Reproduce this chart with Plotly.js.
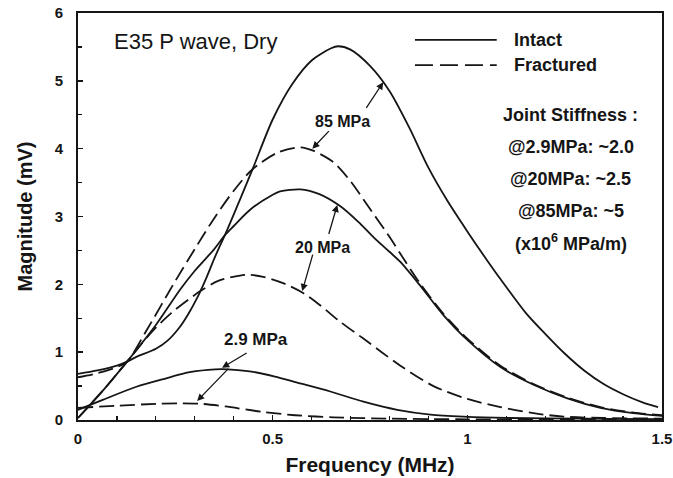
<!DOCTYPE html>
<html>
<head>
<meta charset="utf-8">
<script src="https://cdn.plot.ly/plotly-3.0.1.min.js"></script>
<style>
html,body{margin:0;padding:0;background:#fff;}
#chart{width:673px;height:478px;}
</style>
</head>
<body>
<div id="chart"></div>
<script>
// ---- data ----
const seriesNames = ["Intact", "Fractured"];
const stressLabels = ["85 MPa", "20 MPa", "2.9 MPa"];

const intact85X = [0, 0.05, 0.1, 0.126, 0.15, 0.2, 0.23, 0.26, 0.283, 0.306, 0.33, 0.35, 0.383, 0.416, 0.45, 0.5, 0.55, 0.6, 0.65, 0.668, 0.7, 0.75, 0.8, 0.85, 0.9, 0.95, 1.0, 1.05, 1.1, 1.15, 1.2, 1.25, 1.3, 1.35, 1.4, 1.45, 1.49];
const intact85Y = [0.68, 0.73, 0.80, 0.86, 0.93, 1.05, 1.17, 1.36, 1.56, 1.80, 2.10, 2.38, 2.80, 3.25, 3.72, 4.43, 4.95, 5.30, 5.48, 5.51, 5.46, 5.22, 4.85, 4.32, 3.72, 3.22, 2.78, 2.36, 1.96, 1.58, 1.27, 0.98, 0.73, 0.53, 0.38, 0.26, 0.19];

const intact20X = [0, 0.065, 0.126, 0.2, 0.262, 0.3, 0.35, 0.378, 0.4, 0.442, 0.5, 0.519, 0.571, 0.62, 0.674, 0.72, 0.76, 0.8, 0.828, 0.879, 0.938, 1.0, 1.085, 1.17, 1.257, 1.342, 1.427, 1.5];
const intact20Y = [0.03, 0.44, 0.86, 1.40, 1.92, 2.20, 2.52, 2.73, 2.86, 3.10, 3.32, 3.37, 3.40, 3.33, 3.15, 2.92, 2.69, 2.48, 2.33, 1.98, 1.55, 1.18, 0.78, 0.52, 0.32, 0.18, 0.10, 0.06];

const intact29X = [0, 0.065, 0.15, 0.236, 0.28, 0.334, 0.37, 0.403, 0.45, 0.506, 0.558, 0.648, 0.733, 0.82, 0.905, 0.99, 1.1, 1.3, 1.5];
const intact29Y = [0.15, 0.30, 0.49, 0.63, 0.70, 0.74, 0.75, 0.74, 0.71, 0.64, 0.56, 0.42, 0.27, 0.15, 0.08, 0.05, 0.03, 0.02, 0.01];

const fract85X = [0, 0.05, 0.1, 0.126, 0.177, 0.25, 0.3, 0.347, 0.4, 0.447, 0.512, 0.571, 0.604, 0.656, 0.7, 0.743, 0.8, 0.828, 0.879, 0.938, 1.0, 1.085, 1.17, 1.257, 1.342, 1.427, 1.5];
const fract85Y = [0.63, 0.69, 0.78, 0.86, 1.33, 2.05, 2.52, 2.95, 3.38, 3.69, 3.94, 4.02, 3.97, 3.80, 3.52, 3.17, 2.70, 2.45, 2.01, 1.57, 1.20, 0.80, 0.53, 0.33, 0.19, 0.11, 0.07];

const fract20X = [0, 0.065, 0.126, 0.185, 0.24, 0.314, 0.36, 0.416, 0.44, 0.476, 0.53, 0.576, 0.62, 0.673, 0.733, 0.78, 0.828, 0.913, 1.0, 1.085, 1.17, 1.247, 1.35, 1.5];
const fract20Y = [0.03, 0.44, 0.86, 1.27, 1.58, 1.90, 2.05, 2.13, 2.14, 2.11, 2.01, 1.88, 1.70, 1.45, 1.20, 1.00, 0.80, 0.50, 0.31, 0.19, 0.10, 0.05, 0.03, 0.02];

const fract29X = [0, 0.1, 0.206, 0.26, 0.314, 0.378, 0.473, 0.558, 0.656, 0.8, 1.0, 1.5];
const fract29Y = [0.18, 0.21, 0.24, 0.245, 0.24, 0.20, 0.12, 0.07, 0.04, 0.02, 0.01, 0.01];

const xTickVals = [0, 0.5, 1, 1.5];
const xTickText = ["0", "0.5", "1", "1.5"];
const yTickVals = [0, 1, 2, 3, 4, 5, 6];

const chartTitle = "E35 P wave, Dry";
const stiffnessLines = ["Joint Stiffness :", "@2.9MPa: ~2.0", "@20MPa: ~2.5", "@85MPa: ~5", "(x10<sup>6</sup> MPa/m)"];

// ---- styles ----
const INK = "#151515";
const FONT = "Liberation Sans, Arial, sans-serif";
const DASH = "15px,6px";

function curve(x, y, dashed, name) {
  return {
    x: x, y: y, type: "scatter", mode: "lines", name: name,
    line: {color: INK, width: 1.8, shape: "spline", smoothing: 0.8, dash: dashed ? DASH : "solid"},
    showlegend: false, hoverinfo: "skip"
  };
}

const traces = [
  curve(intact85X, intact85Y, false, seriesNames[0] + " " + stressLabels[0]),
  curve(intact20X, intact20Y, false, seriesNames[0] + " " + stressLabels[1]),
  curve(intact29X, intact29Y, false, seriesNames[0] + " " + stressLabels[2]),
  curve(fract85X, fract85Y, true, seriesNames[1] + " " + stressLabels[0]),
  curve(fract20X, fract20Y, true, seriesNames[1] + " " + stressLabels[1]),
  curve(fract29X, fract29Y, true, seriesNames[1] + " " + stressLabels[2])
];

const bold = (s) => "<b>" + s + "</b>";

function arrow(x, y, ax, ay) {
  return {x: x, y: y, ax: ax, ay: ay, xref: "x", yref: "y", axref: "x", ayref: "y",
          text: "", showarrow: true, arrowhead: 2, arrowsize: 1.1, arrowwidth: 1.3, arrowcolor: INK};
}
function label(text, x, y, size) {
  return {x: x, y: y, xref: "x", yref: "y", text: bold(text), showarrow: false,
          font: {family: FONT, size: size, color: INK}, xanchor: "center", yanchor: "middle"};
}

const annotations = [
  {x: 0.058, y: 0.929, xref: "paper", yref: "paper", xanchor: "left", yanchor: "middle",
   text: chartTitle, showarrow: false, font: {family: FONT, size: 22, color: INK}},
  {x: 0.743, y: 0.934, xref: "paper", yref: "paper", xanchor: "left", yanchor: "middle",
   text: bold(seriesNames[0]), showarrow: false, font: {family: FONT, size: 18, color: INK}},
  {x: 0.743, y: 0.872, xref: "paper", yref: "paper", xanchor: "left", yanchor: "middle",
   text: bold(seriesNames[1]), showarrow: false, font: {family: FONT, size: 18, color: INK}},
  label(stressLabels[0], 0.679, 4.40, 16),
  label(stressLabels[1], 0.627, 2.54, 16),
  label(stressLabels[2], 0.458, 1.18, 17),
  arrow(0.784, 4.98, 0.738, 4.58),
  arrow(0.602, 4.00, 0.648, 4.28),
  arrow(0.666, 3.17, 0.643, 2.72),
  arrow(0.576, 1.90, 0.604, 2.46),
  arrow(0.370, 0.77, 0.437, 1.00),
  arrow(0.306, 0.28, 0.390, 0.78)
];
const stiffY = [0.749, 0.671, 0.592, 0.514, 0.435];
stiffnessLines.forEach((t, i) => {
  annotations.push({x: 0.844, y: stiffY[i], xref: "paper", yref: "paper", xanchor: "center", yanchor: "middle",
    text: bold(t), showarrow: false, font: {family: FONT, size: 18, color: INK}});
});

const shapes = [
  {type: "line", xref: "paper", yref: "paper", x0: 0.577, x1: 0.717, y0: 0.934, y1: 0.934,
   line: {color: INK, width: 1.8}},
  {type: "line", xref: "paper", yref: "paper", x0: 0.577, x1: 0.717, y0: 0.872, y1: 0.872,
   line: {color: INK, width: 1.8, dash: "18px,7px"}}
];

const layout = {
  width: 673, height: 478,
  margin: {l: 78, r: 11, t: 13, b: 58},
  paper_bgcolor: "#fff", plot_bgcolor: "#fff",
  showlegend: false,
  font: {family: FONT, color: INK},
  xaxis: {
    range: [0, 1.5], tickvals: xTickVals, ticktext: xTickText.map(bold),
    ticks: "inside", ticklen: 5, tickwidth: 1.5, tickcolor: INK,
    minor: {dtick: 0.1, ticks: "inside", ticklen: 4, tickwidth: 1.2, tickcolor: INK},
    showline: true, linewidth: 2, linecolor: INK, mirror: true,
    showgrid: false, zeroline: false,
    tickfont: {family: FONT, size: 15, color: INK}, ticklabelstandoff: 4,
    title: {text: bold("Frequency (MHz)"), font: {family: FONT, size: 21, color: INK}, standoff: 11}
  },
  yaxis: {
    range: [0, 6], tickvals: yTickVals, ticktext: yTickVals.map(v => bold(String(v))),
    ticks: "inside", ticklen: 5, tickwidth: 1.5, tickcolor: INK,
    minor: {dtick: 0.5, ticks: "inside", ticklen: 4, tickwidth: 1.2, tickcolor: INK},
    showline: true, linewidth: 2, linecolor: INK, mirror: true,
    showgrid: false, zeroline: false,
    tickfont: {family: FONT, size: 15, color: INK}, ticklabelstandoff: 10,
    title: {text: bold("Magnitude (mV)"), font: {family: FONT, size: 20, color: INK}, standoff: 17}
  },
  annotations: annotations,
  shapes: shapes
};

Plotly.newPlot("chart", traces, layout, {staticPlot: true, displayModeBar: false});
</script>
</body>
</html>
